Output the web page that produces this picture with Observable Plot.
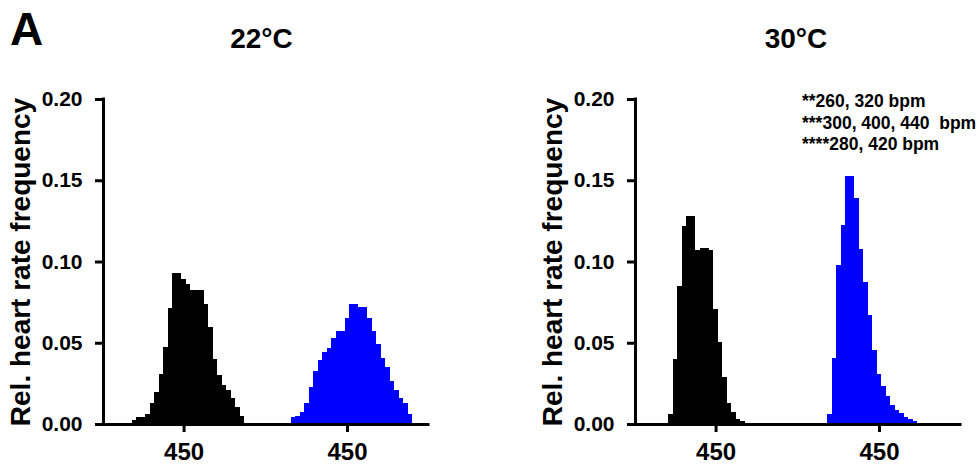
<!DOCTYPE html>
<html>
<head>
<meta charset="utf-8">
<script src="https://cdn.jsdelivr.net/npm/d3@7"></script>
<script src="https://cdn.jsdelivr.net/npm/@observablehq/plot@0.6"></script>
<style>
  html, body { margin: 0; padding: 0; background: #fff; overflow: hidden; }
  #fig { position: relative; width: 976px; height: 465px; color: #000;
         font-family: "Liberation Sans", Arial, Helvetica, sans-serif; font-weight: bold; }
  #fig svg { position: absolute; top: 0; }
  .lbl { position: absolute; white-space: nowrap; line-height: 1; }
  .center { transform: translateX(-50%); }
  .note { position: absolute; white-space: pre; font-size: 17.5px; line-height: 21.5px; }
</style>
</head>
<body>
<div id="fig"></div>
<script>
// Heart-rate histograms: relative frequency per 20 bpm bin.
const binWidth = 20;
// The blue group is drawn on a shifted copy of the bpm axis, to the right of the black one.
const groupShift = 726;
const xDomain = [92, 1536];
const tickBpm = [450];
const yTicks = [0, 0.05, 0.10, 0.15, 0.20];
const yTitle = "Rel. heart rate frequency";
const panelTitles = ["22°C", "30°C"];
const noteLines = ["**260, 320 bpm", "***300, 400, 440  bpm", "****280, 420 bpm"];

// 22 °C
const black22Start = 220;
const black22 = [0.0025, 0.0045, 0.0045, 0.006, 0.0127, 0.0199, 0.0308, 0.0476, 0.0712,
  0.0927, 0.0927, 0.0892, 0.0864, 0.0826, 0.0826, 0.0826, 0.0740, 0.0597, 0.0402, 0.0304,
  0.0242, 0.0208, 0.0158, 0.0102, 0.0049];
const blue22Start = 200;
const blue22 = [0.0045, 0.0051, 0.0076, 0.0127, 0.0226, 0.0326, 0.0394, 0.0441, 0.0468,
  0.0531, 0.0574, 0.0574, 0.065, 0.0738, 0.0738, 0.0722, 0.0722, 0.065, 0.0572, 0.049,
  0.0408, 0.0353, 0.0266, 0.0209, 0.0158, 0.0131, 0.006];

// 30 °C
const black30Start = 240;
const black30 = [0.0062, 0.040, 0.0847, 0.1217, 0.128, 0.128, 0.1073, 0.1085, 0.1085,
  0.1068, 0.0709, 0.0503, 0.0292, 0.0129, 0.0072, 0.0031, 0.002];
const blue30Start = 220;
const blue30 = [0.006, 0.0409, 0.0976, 0.1223, 0.1528, 0.1528, 0.1393, 0.1079, 0.0873,
  0.0668, 0.0458, 0.0308, 0.0236, 0.0174, 0.0117, 0.0086, 0.0068, 0.0045, 0.0031, 0.0016,
  0.0008, 0.0004, 0.0004];

const font = '"Liberation Sans", Arial, Helvetica, sans-serif';

function bins(start, values, shift, group) {
  return values.map((v, i) => ({
    x1: start + i * binWidth + shift,
    x2: start + (i + 1) * binWidth + shift,
    y: v,
    group
  }));
}

function panel(black, blackStart, blue, blueStart, marginLeft, marginRight) {
  const data = [
    ...bins(blackStart, black, 0, "black"),
    ...bins(blueStart, blue, groupShift, "blue")
  ];
  const xTicks = [...tickBpm, ...tickBpm.map(t => t + groupShift)];
  return Plot.plot({
    width: 488,
    height: 465,
    marginLeft,
    marginRight,
    marginTop: 99,
    marginBottom: 41,
    style: { fontFamily: font, fontWeight: "bold", background: "transparent", overflow: "visible", color: "#000" },
    x: { domain: xDomain },
    y: { domain: [0, 0.2] },
    color: { domain: ["black", "blue"], range: ["#000000", "#0000ff"] },
    marks: [
      // contiguous histogram bins, snapped to whole pixels so no seams show between them
      Plot.rectY(data, { x1: "x1", x2: "x2", y1: 0, y2: "y", inset: 0,
                         fill: "group", shapeRendering: "crispEdges" }),
      Plot.axisY({ ticks: yTicks, tickFormat: d3.format(".2f"), tickSize: 8, tickPadding: 13,
                   strokeWidth: 3, fontSize: 21, label: null }),
      Plot.axisX({ ticks: xTicks, tickFormat: d => String(d >= groupShift ? d - groupShift : d),
                   tickSize: 8, tickPadding: 10, strokeWidth: 3, fontSize: 24, label: null }),
      Plot.ruleY([0], { strokeWidth: 3, strokeLinecap: "square" }),
      Plot.ruleX([xDomain[0]], { y1: 0, y2: 0.2, strokeWidth: 3, strokeLinecap: "square" }),
      Plot.text([yTitle], { frameAnchor: "left", textAnchor: "middle", rotate: -90, dx: -82,
                            fontSize: 28, fontWeight: "bold" })
    ]
  });
}

const fig = document.getElementById("fig");

const left = panel(black22, black22Start, blue22, blue22Start, 103, 60);
left.style.left = "0px";
fig.appendChild(left);

const right = panel(black30, black30Start, blue30, blue30Start, 147, 16);
right.style.left = "488px";
fig.appendChild(right);

function label(text, x, top, size, centered) {
  const d = document.createElement("div");
  d.className = "lbl" + (centered ? " center" : "");
  d.textContent = text;
  d.style.left = x + "px";
  d.style.top = top + "px";
  d.style.fontSize = size + "px";
  fig.appendChild(d);
}

label("A", 10, 6, 46, false);
label(panelTitles[0], 261.5, 25.3, 28, true);
label(panelTitles[1], 796, 25.3, 28, true);

const note = document.createElement("div");
note.className = "note";
note.style.left = "802px";
note.style.top = "91.2px";
note.textContent = noteLines.join("\n");
fig.appendChild(note);
</script>
</body>
</html>
